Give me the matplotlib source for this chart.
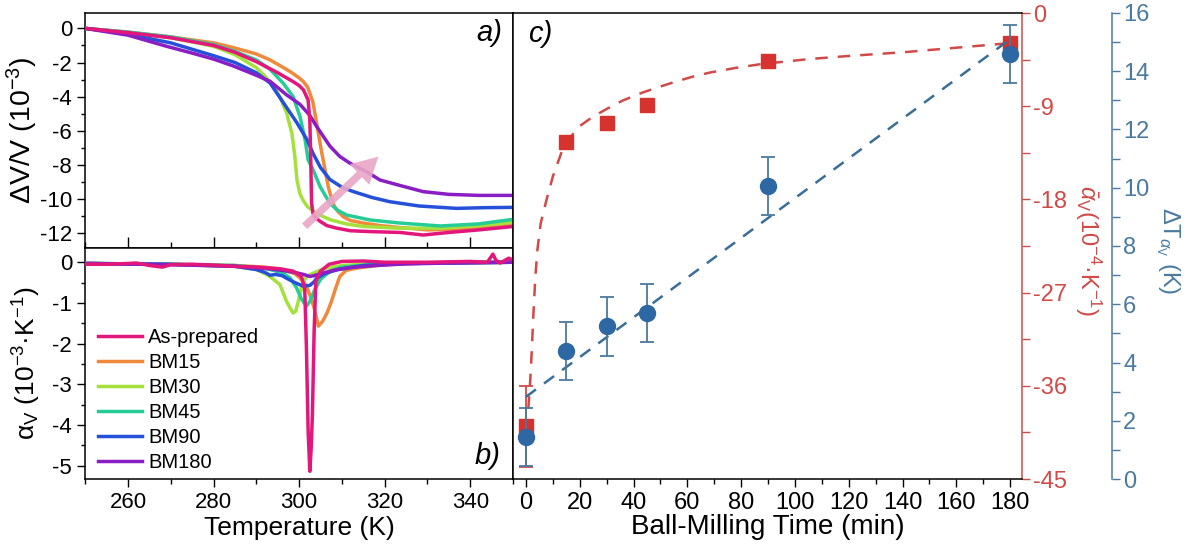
import matplotlib.pyplot as plt
from matplotlib.ticker import MultipleLocator

plt.rcParams['font.family'] = ['Liberation Sans', 'DejaVu Sans']
plt.rcParams['mathtext.fontset'] = 'custom'
plt.rcParams['mathtext.rm'] = 'Liberation Sans'
plt.rcParams['mathtext.it'] = 'Liberation Sans:italic'
plt.rcParams['axes.unicode_minus'] = False

# ---- panel a) dV/V (10^-3) vs temperature ----
labels = ['As-prepared', 'BM15', 'BM30', 'BM45', 'BM90', 'BM180']
colors = ['#e3167c', '#ef8a3c', '#a5e03c', '#25cc96', '#2450da', '#8a1ec4']

T_ap = [250, 260, 270, 280, 285, 290, 295, 298.6, 300, 301, 302.1, 302.5, 302.7, 302.9, 303.2,
        303.7, 304.9, 306.5, 308.8, 312, 316.6, 323.6, 329, 335, 342, 350]
dv_ap = [0, -0.25, -0.55, -1.0, -1.4, -1.95, -2.6, -3.12, -3.35, -3.6, -4.2, -5.4, -7.5, -10.2, -10.8,
         -11.05, -11.3, -11.55, -11.7, -11.85, -11.9, -11.95, -12.1, -11.95, -11.8, -11.6]
T_15 = [250, 260, 270, 280, 285, 290, 293.2, 296, 298, 300, 301, 302, 302.5, 303.2, 303.7, 304.2,
        304.6, 305.3, 306, 306.8, 307.5, 308.2, 309, 310.3, 312, 315, 319, 323, 330, 340, 350]
dv_15 = [0, -0.22, -0.5, -0.85, -1.15, -1.5, -1.85, -2.25, -2.55, -2.9, -3.12, -3.45, -3.8, -4.3,
         -5.0, -5.7, -6.3, -7.3, -8.2, -9.27, -9.9, -10.4, -10.7, -11.03, -11.25, -11.4, -11.55,
         -11.65, -11.8, -11.75, -11.5]
T_30 = [250, 260, 270, 280, 285, 290, 292, 294, 295.5, 297.1, 298.3, 299, 299.5, 300.2, 301, 302,
        303.3, 305, 307.2, 311, 315, 323, 333, 342, 350]
dv_30 = [0, -0.25, -0.55, -1.05, -1.54, -2.3, -2.8, -3.4, -4.0, -4.98, -6.15, -7.5, -8.9, -9.7,
         -10.1, -10.45, -10.7, -10.95, -11.2, -11.45, -11.6, -11.7, -11.7, -11.55, -11.35]
T_45 = [250, 260, 270, 280, 285, 290, 293.2, 296.3, 298.6, 300.2, 301.4, 302.1, 303.3, 304.9,
        307.2, 309, 311.1, 316.6, 323.6, 333, 342, 350]
dv_45 = [0, -0.22, -0.5, -0.95, -1.35, -1.85, -2.4, -3.22, -4.0, -5.17, -6.54, -7.7, -8.3, -9.27,
         -10.25, -10.65, -10.93, -11.22, -11.4, -11.57, -11.45, -11.18]
T_90 = [250, 260, 270, 280, 285, 290, 293.2, 296.3, 299.4, 301.8, 303.3, 305, 307.2, 310, 312.7,
        317, 321.2, 328, 336.8, 343, 350]
dv_90 = [0, -0.35, -0.85, -1.6, -2.0, -2.6, -3.2, -4.35, -5.5, -6.5, -7.35, -8.15, -8.85, -9.3,
         -9.56, -9.9, -10.15, -10.4, -10.54, -10.5, -10.48]
T_180 = [250, 260, 269, 275, 280, 284.6, 290, 293.2, 297.1, 300.2, 302.5, 304.1, 307.2, 309.5,
         311.9, 313.5, 315.8, 318.9, 323.6, 329, 335, 342, 350]
dv_180 = [0, -0.4, -1.05, -1.45, -1.8, -2.2, -2.75, -3.1, -3.9, -4.45, -5.1, -5.75, -6.9, -7.5,
          -7.9, -8.1, -8.4, -8.88, -9.2, -9.56, -9.72, -9.78, -9.78]

# ---- panel b) alpha_V (10^-3 K^-1) vs temperature ----
Tb_ap = [250, 255, 260, 262, 265, 268, 270, 275, 280, 285, 290, 295.5, 298.6, 300.5, 301.3, 301.7,
         302.1, 302.5, 302.8, 303.1, 303.5, 303.9, 305, 307, 310, 315, 320, 330, 340, 344, 345.3,
         346, 347, 349, 350]
av_ap = [-0.05, -0.05, -0.03, -0.02, -0.08, -0.12, -0.06, -0.05, -0.07, -0.1, -0.12, -0.16, -0.22,
         -0.35, -0.63, -2.1, -4.15, -5.14, -4.6, -3.75, -1.7, -0.47, -0.22, -0.05, 0.02, 0.03, 0.0,
         0.0, 0.02, 0.0, 0.2, 0.05, -0.02, 0.1, 0.05]
Tb_15 = [250, 270, 285, 292, 296, 299, 300.2, 301.5, 302.5, 303.5, 304.5, 305.5, 306.5, 307.5,
         308.5, 309.5, 311, 313.7, 320, 330, 350]
av_15 = [-0.03, -0.05, -0.08, -0.12, -0.18, -0.28, -0.39, -0.55, -0.8, -1.12, -1.57, -1.45, -1.25,
         -0.98, -0.65, -0.35, -0.2, -0.14, -0.06, -0.02, 0.0]
Tb_30 = [250, 270, 285, 290, 292.4, 294, 295.5, 297, 298, 298.6, 299.2, 299.8, 300.4, 301, 302,
         303.5, 306, 310, 320, 350]
av_30 = [-0.03, -0.05, -0.1, -0.18, -0.3, -0.42, -0.55, -0.95, -1.15, -1.25, -1.2, -0.96, -0.7,
         -0.47, -0.33, -0.26, -0.15, -0.08, -0.02, 0.0]
Tb_45 = [250, 270, 285, 292, 296, 297.9, 299.4, 300.5, 301.7, 302.6, 303.5, 304.9, 307.2, 310, 320, 350]
av_45 = [-0.03, -0.05, -0.08, -0.15, -0.25, -0.39, -0.63, -0.9, -1.08, -0.95, -0.71, -0.43, -0.22,
         -0.12, -0.03, 0.0]
Tb_90 = [250, 270, 285, 290, 292, 293.2, 294.5, 296, 297, 299, 301, 302.5, 303.5, 304.1, 306, 309,
         315, 325, 350]
av_90 = [-0.03, -0.05, -0.1, -0.18, -0.25, -0.32, -0.3, -0.33, -0.39, -0.5, -0.59, -0.57, -0.48,
         -0.39, -0.28, -0.18, -0.08, -0.03, 0.0]
Tb_180 = [250, 270, 285, 292, 296, 299, 301, 302.5, 303.5, 305, 308, 312, 318, 325, 335, 350]
av_180 = [-0.03, -0.06, -0.1, -0.15, -0.2, -0.25, -0.3, -0.35, -0.33, -0.28, -0.2, -0.13, -0.08,
          -0.04, -0.02, 0.0]

# ---- panel c) vs ball-milling time ----
bm_time = [0, 15, 30, 45, 90, 180]
alpha_mean = [-39.9, -12.5, -10.65, -8.9, -4.66, -2.9]
alpha_err = [3.9, 0, 0, 0, 0, 0]
dT = [1.43, 4.40, 5.24, 5.69, 10.07, 14.6]
dT_err = [1.0, 1.0, 1.0, 1.0, 1.0, 1.0]
fit_t = [0.9, 1.6, 2.2, 2.8, 3.5, 4.3, 5.5, 7.7, 10, 13.3, 16.5, 20.1, 25, 30, 36, 43.6, 50, 56,
         62, 68.4, 78, 87, 96, 105.6, 120, 141.3, 160, 179.4]
fit_alpha = [-38.2, -35.5, -32.5, -29, -25.5, -22.8, -20.3, -18.0, -15.8, -13.4, -12.0, -10.9,
             -10.0, -9.27, -8.45, -7.66, -7.1, -6.6, -6.15, -5.75, -5.3, -4.95, -4.7, -4.44,
             -4.15, -3.77, -3.35, -2.92]
lin_t = [0, 180]
lin_dT = [2.82, 15.1]

red = '#d04a48'
red_pt = '#d6322e'
blue = '#4a7a9e'
blue_pt = '#2e68a2'

W, H = 1189, 554
fig = plt.figure(figsize=(W / 100, H / 100), dpi=100)
L, R = 85.3 / W, 513 / W
ax_a = fig.add_axes([L, 1 - 248 / H, R - L, (248 - 13) / H])
ax_b = fig.add_axes([L, 1 - 479 / H, R - L, (479 - 248) / H])
ax_c = fig.add_axes([R, 1 - 479 / H, 1022 / W - R, (479 - 13) / H])

a_data = [(T_ap, dv_ap), (T_15, dv_15), (T_30, dv_30), (T_45, dv_45), (T_90, dv_90), (T_180, dv_180)]
b_data = [(Tb_ap, av_ap), (Tb_15, av_15), (Tb_30, av_30), (Tb_45, av_45), (Tb_90, av_90), (Tb_180, av_180)]
for i, ((x, y), (xb, yb)) in enumerate(zip(a_data, b_data)):
    z = 5 if i == 0 else 3
    ax_a.plot(x, y, color=colors[i], lw=2.5, zorder=z, solid_joinstyle='round')
    ax_b.plot(xb, yb, color=colors[i], lw=2.5, zorder=z, label=labels[i], solid_joinstyle='round')

ax_a.annotate('', xy=(319, -7.4), xytext=(300.8, -11.7),
              arrowprops=dict(arrowstyle='simple,head_width=1.2,head_length=1.1,tail_width=0.32',
                              color='#e9a6c6', lw=0, mutation_scale=17, alpha=0.9), zorder=6)

for ax in (ax_a, ax_b):
    ax.set_xlim(250, 350)
    ax.xaxis.set_major_locator(MultipleLocator(20))
    ax.xaxis.set_minor_locator(MultipleLocator(10))
    for s in ax.spines.values():
        s.set_linewidth(1.1)
    ax.tick_params(axis='y', which='major', direction='out', length=6, width=1, labelsize=16)
    ax.tick_params(axis='y', which='minor', direction='out', length=3, width=1)

ax_a.set_ylim(-12.86, 0.9)
ax_a.yaxis.set_major_locator(MultipleLocator(2))
ax_a.yaxis.set_minor_locator(MultipleLocator(1))
ax_a.tick_params(axis='x', which='major', direction='in', length=8, width=1, labelbottom=False)
ax_a.tick_params(axis='x', which='minor', direction='in', length=4.5, width=1)
ax_a.set_ylabel('ΔV/V (10$^{-3}$)', fontsize=20.5)
ax_a.yaxis.set_label_coords(-0.106, 0.5)
ax_a.text(0.975, 0.975, 'a)', transform=ax_a.transAxes, ha='right', va='top',
          fontsize=21, style='italic')

ax_b.set_ylim(-5.33, 0.35)
ax_b.yaxis.set_major_locator(MultipleLocator(1))
ax_b.yaxis.set_minor_locator(MultipleLocator(0.5))
ax_b.tick_params(axis='x', which='major', direction='out', length=6, width=1, labelsize=16)
ax_b.tick_params(axis='x', which='minor', direction='out', length=3.5, width=1)
ax_b.set_xlabel('Temperature (K)', fontsize=19, labelpad=2)
ax_b.set_ylabel('α$_\\mathrm{V}$ (10$^{-3}$·K$^{-1}$)', fontsize=19)
ax_b.yaxis.set_label_coords(-0.10, 0.5)
ax_b.text(0.97, 0.04, 'b)', transform=ax_b.transAxes, ha='right', va='bottom',
          fontsize=21, style='italic')
ax_b.legend(loc='lower left', bbox_to_anchor=(0.006, -0.015), frameon=False, fontsize=14.5,
            handlelength=2.2, handletextpad=0.3, labelspacing=0.3, borderpad=0)

# panel c: red axis on the right of ax_c, blue axis offset further right
ax_c.plot(fit_t, fit_alpha, color=red, lw=1.8, dashes=(5, 4), zorder=2)
ax_c.errorbar(bm_time, alpha_mean, yerr=alpha_err, fmt='s', color=red_pt, ms=10,
              ecolor=red, elinewidth=1.3, capsize=5, capthick=1.3, zorder=3)
ax_c.set_xlim(-4.8, 184.4)
ax_c.set_ylim(-45, 0)
ax_c.xaxis.set_major_locator(MultipleLocator(20))
ax_c.xaxis.set_minor_locator(MultipleLocator(10))
ax_c.yaxis.set_major_locator(MultipleLocator(9))
ax_c.yaxis.set_minor_locator(MultipleLocator(4.5))
for s in ax_c.spines.values():
    s.set_linewidth(1.1)
ax_c.spines['right'].set_color(red)
ax_c.set_xlabel('Ball-Milling Time (min)', fontsize=20, labelpad=0)
ax_c.text(0.03, 0.985, 'c)', transform=ax_c.transAxes, ha='left', va='top',
          fontsize=21, style='italic')
ax_c.text(1.13, 0.49, '$\\bar{\\alpha}_\\mathrm{V}$(10$^{-4}$·K$^{-1}$)', transform=ax_c.transAxes,
          rotation=-90, ha='center', va='center', fontsize=17, color=red)

ax_t = ax_c.twinx()
# twinx moves the original y ticks back to the left, so put them on the right afterwards
ax_c.yaxis.tick_right()
ax_c.tick_params(axis='x', which='major', direction='out', length=6, width=1, labelsize=17)
ax_c.tick_params(axis='x', which='minor', direction='out', length=3.5, width=1)
ax_c.tick_params(axis='y', which='both', direction='out', length=6, width=1, colors=red,
                 labelsize=17, pad=2, left=False, labelleft=False, right=True, labelright=True)

ax_t.plot(lin_t, lin_dT, color='#3b6e96', lw=1.8, dashes=(5, 4), zorder=2)
ax_t.errorbar(bm_time, dT, yerr=dT_err, fmt='o', color=blue_pt, ms=11.5,
              ecolor=blue, elinewidth=1.3, capsize=5, capthick=1.3, zorder=3)
ax_t.set_ylim(0, 16)
ax_t.yaxis.set_major_locator(MultipleLocator(2))
ax_t.yaxis.set_minor_locator(MultipleLocator(1))
for k in ('top', 'bottom', 'left'):
    ax_t.spines[k].set_visible(False)
ax_t.spines['right'].set_position(('axes', (1112 - 513) / (1022 - 513)))
ax_t.spines['right'].set_color(blue)
ax_t.spines['right'].set_linewidth(1.1)
ax_t.tick_params(axis='y', which='both', direction='out', length=6, width=1, colors=blue,
                 labelsize=17, pad=2)
ax_t.text(1.287, 0.49, 'ΔT$_{\\alpha_\\mathrm{V}}$ (K)', transform=ax_c.transAxes,
          rotation=-90, ha='center', va='center', fontsize=17, color=blue)

fig.savefig('out.png', dpi=100)
